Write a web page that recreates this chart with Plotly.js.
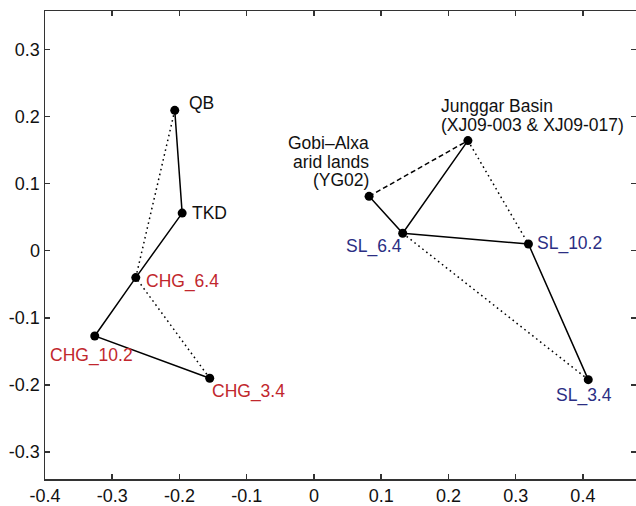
<!DOCTYPE html>
<html>
<head>
<meta charset="utf-8">
<script src="https://cdn.plot.ly/plotly-3.0.1.min.js"></script>
<style>html,body{margin:0;padding:0;background:#fff;}#chart{width:636px;height:506px;}</style>
</head>
<body>
<div id="chart"></div>
<script>
// Points
const pointNames = ['QB','TKD','CHG_6.4','CHG_10.2','CHG_3.4','Junggar','Gobi','SL_6.4','SL_10.2','SL_3.4'];
const xVals = [-0.207, -0.196, -0.265, -0.326, -0.155, 0.229, 0.082, 0.132, 0.319, 0.408];
const yVals = [0.209, 0.056, -0.040, -0.127, -0.190, 0.164, 0.081, 0.026, 0.010, -0.192];

// Connections between points
const solidPaths = [['QB','TKD','CHG_6.4','CHG_10.2','CHG_3.4'], ['Gobi','SL_6.4','Junggar'], ['SL_6.4','SL_10.2','SL_3.4']];
const dottedPaths = [['QB','CHG_6.4','CHG_3.4'], ['Junggar','SL_10.2'], ['SL_6.4','SL_3.4']];
const dashedPaths = [['Gobi','Junggar']];

// Labels: point, text lines
const labelTexts = {
  'QB': ['QB'],
  'TKD': ['TKD'],
  'CHG_6.4': ['CHG_6.4'],
  'CHG_10.2': ['CHG_10.2'],
  'CHG_3.4': ['CHG_3.4'],
  'Junggar': ['Junggar Basin', '(XJ09-003 & XJ09-017)'],
  'Gobi': ['Gobi\u2013Alxa', 'arid lands', '(YG02)'],
  'SL_6.4': ['SL_6.4'],
  'SL_10.2': ['SL_10.2'],
  'SL_3.4': ['SL_3.4']
};

const xTicks = [-0.4,-0.3,-0.2,-0.1,0,0.1,0.2,0.3,0.4];
const xTickText = ['-0.4','-0.3','-0.2','-0.1','0','0.1','0.2','0.3','0.4'];
const yTicks = [-0.3,-0.2,-0.1,0,0.1,0.2,0.3];
const yTickText = ['-0.3','-0.2','-0.1','0','0.1','0.2','0.3'];

// label styling (positions in pixel offsets from the point)
const RED = '#c1272d', BLUE = '#2b2e83', BLACK = '#111';
const labelStyle = {
  'QB':      {color: BLACK, xanchor: 'left',   dx: 12, dy: [7]},
  'TKD':     {color: BLACK, xanchor: 'left',   dx: 8,  dy: [0]},
  'CHG_6.4': {color: RED,   xanchor: 'left',   dx: 8,  dy: [-4]},
  'CHG_10.2':{color: RED,   xanchor: 'center', dx: -3, dy: [-20]},
  'CHG_3.4': {color: RED,   xanchor: 'left',   dx: 0,  dy: [-13]},
  'Junggar': {color: BLACK, xanchor: 'left',   dx: -29, dy: [35, 16]},
  'Gobi':    {color: BLACK, xanchor: 'right',  dx: 2,  dy: [53, 34.5, 16]},
  'SL_6.4':  {color: BLUE,  xanchor: 'right',  dx: 1,  dy: [-13]},
  'SL_10.2': {color: BLUE,  xanchor: 'left',   dx: 7,  dy: [0]},
  'SL_3.4':  {color: BLUE,  xanchor: 'center', dx: -4, dy: [-16]}
};

function idx(n){ return pointNames.indexOf(n); }
function pathTrace(path, dash){
  return {
    type: 'scatter', mode: 'lines',
    x: path.map(n => xVals[idx(n)]),
    y: path.map(n => yVals[idx(n)]),
    line: {color: '#000', width: 1.5, dash: dash},
    hoverinfo: 'skip', showlegend: false
  };
}
const traces = [];
solidPaths.forEach(p => traces.push(pathTrace(p, 'solid')));
dottedPaths.forEach(p => traces.push(pathTrace(p, '1.6px,3.4px')));
dashedPaths.forEach(p => traces.push(pathTrace(p, '5px,3px')));
traces.push({
  type: 'scatter', mode: 'markers', x: xVals, y: yVals,
  marker: {color: '#000', size: 9}, showlegend: false, hoverinfo: 'skip'
});

const annotations = [];
pointNames.forEach(n => {
  const st = labelStyle[n];
  labelTexts[n].forEach((t, i) => {
    annotations.push({
      x: xVals[idx(n)], y: yVals[idx(n)], xref: 'x', yref: 'y',
      text: t, showarrow: false, xanchor: st.xanchor, yanchor: 'middle',
      xshift: st.dx, yshift: st.dy[i],
      font: {family: 'Liberation Sans, Arial, sans-serif', size: 17.5, color: st.color}
    });
  });
});

const axisCommon = {
  showgrid: false, zeroline: false, showline: true, mirror: 'ticks',
  linecolor: '#333', linewidth: 1.5, ticks: 'inside', ticklen: 5, tickwidth: 1.5,
  tickcolor: '#333', tickfont: {family: 'Liberation Sans, Arial, sans-serif', size: 18, color: '#111'}
};

const layout = {
  width: 636, height: 506,
  margin: {l: 45, r: 0, t: 11, b: 27},
  paper_bgcolor: '#fff', plot_bgcolor: '#fff',
  xaxis: Object.assign({}, axisCommon, {range: [-0.4, 0.479], tickvals: xTicks, ticktext: xTickText}),
  yaxis: Object.assign({}, axisCommon, {range: [-0.34, 0.357], tickvals: yTicks, ticktext: yTickText}),
  annotations: annotations,
  showlegend: false
};

Plotly.newPlot('chart', traces, layout, {displayModeBar: false, staticPlot: true});
</script>
</body>
</html>
